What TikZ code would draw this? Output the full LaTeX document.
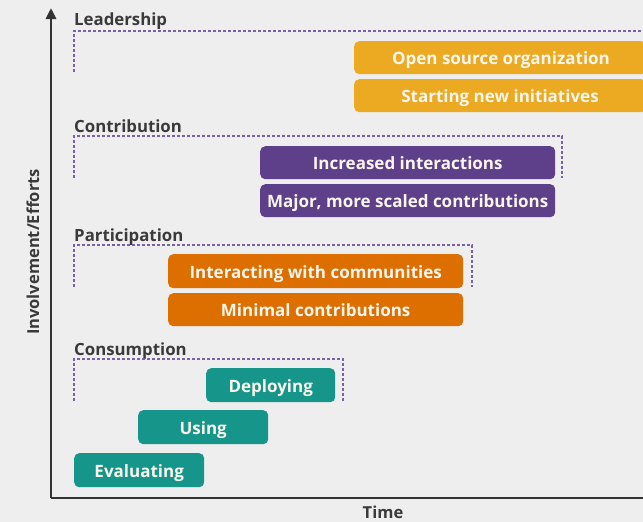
\documentclass[tikz,border=0pt]{standalone}
\usepackage{fontspec}
\setmainfont{Open Sans}
\usetikzlibrary{arrows.meta}
\definecolor{bgc}{HTML}{EEEEEE}
\definecolor{axisc}{HTML}{333333}
\definecolor{goldc}{HTML}{EBAA22}
\definecolor{purplec}{HTML}{5E3F8A}
\definecolor{orangec}{HTML}{DD6E00}
\definecolor{tealc}{HTML}{16968A}
\definecolor{dashc}{HTML}{7A60AA}
\definecolor{labc}{HTML}{3A3A3A}
\definecolor{bartext}{HTML}{FBF6EC}
\begin{document}
\begin{tikzpicture}[x=1pt,y=-1pt,
  bar/.style={rounded corners=5pt, inner sep=0pt, anchor=north west},
  bartxt/.style={text=bartext, font=\bfseries\fontsize{17}{19}\selectfont, inner sep=0pt, anchor=base},
  levellabel/.style={anchor=base west, text=labc, font=\bfseries\fontsize{16.8}{19}\selectfont, inner sep=0pt},
  frame/.style={draw=dashc, line width=1.1pt, dash pattern=on 3pt off 2pt},
  axis/.style={draw=axisc, line width=2.8pt}]
\useasboundingbox (0,0) rectangle (643,522);
\clip (0,0) rectangle (643,522);
\fill[bgc] (0,0) rectangle (643,522);

% axes
\coordinate (origin) at (51,498);
\coordinate (ytop) at (51,8);
\coordinate (xend) at (643,498);
\draw[axis, -{Triangle[length=11pt,width=10pt]}] (origin) -- (ytop);
\draw[axis] (origin) -- (xend);
\node[rotate=90, text=labc, font=\bfseries\fontsize{16.5}{19}\selectfont] (ylab) at (33,252) {Involvement/Efforts};
\node[text=labc, font=\bfseries\fontsize{16.5}{19}\selectfont] (xlab) at (383,512) {Time};

% Leadership
\node[levellabel] (lead) at (74,25) {Leadership};
\draw[frame] (74,72) -- (74,31) -- (660,31);
\node[bar, fill=goldc, minimum width=292pt, minimum height=33pt] (osorg) at (354,41) {};
\node[bartxt] (osorgt) at (501,64) {Open source organization};
\node[bar, fill=goldc, minimum width=292pt, minimum height=33pt] (snew) at (354,79) {};
\node[bartxt] (snewt) at (500,102) {Starting new initiatives};

% Contribution
\node[levellabel] (contr) at (74,132) {Contribution};
\draw[frame] (74,178) -- (74,136) -- (562,136) -- (562,178);
\node[bar, fill=purplec, minimum width=295pt, minimum height=33pt] (incr) at (260,146) {};
\node[bartxt] at ([yshift=-7pt]incr.center) {Increased interactions};
\node[bar, fill=purplec, minimum width=295pt, minimum height=33pt] (major) at (260,184) {};
\node[bartxt] at ([yshift=-7pt]major.center) {Major, more scaled contributions};

% Participation
\node[levellabel] (part) at (74,241) {Participation};
\draw[frame] (74,287) -- (74,245) -- (472,245) -- (472,287);
\node[bar, fill=orangec, minimum width=295pt, minimum height=34pt] (inter) at (168,254) {};
\node[bartxt] at ([yshift=-7pt]inter.center) {Interacting with communities};
\node[bar, fill=orangec, minimum width=295pt, minimum height=33pt] (minc) at (168,293) {};
\node[bartxt] at ([yshift=-7pt]minc.center) {Minimal contributions};

% Consumption
\node[levellabel] (cons) at (74,355) {Consumption};
\draw[frame] (74,401) -- (74,359) -- (343,359) -- (343,401);
\node[bar, fill=tealc, minimum width=129pt, minimum height=34pt] (depl) at (206,368) {};
\node[bartxt] at ([yshift=-7.5pt]depl.center) {Deploying};
\node[bar, fill=tealc, minimum width=130pt, minimum height=34pt] (using) at (138,410) {};
\node[bartxt] at ([yshift=-7.5pt]using.center) {Using};
\node[bar, fill=tealc, minimum width=130pt, minimum height=34pt] (eval) at (74,453) {};
\node[bartxt] at ([yshift=-7.5pt]eval.center) {Evaluating};
\end{tikzpicture}
\end{document}
